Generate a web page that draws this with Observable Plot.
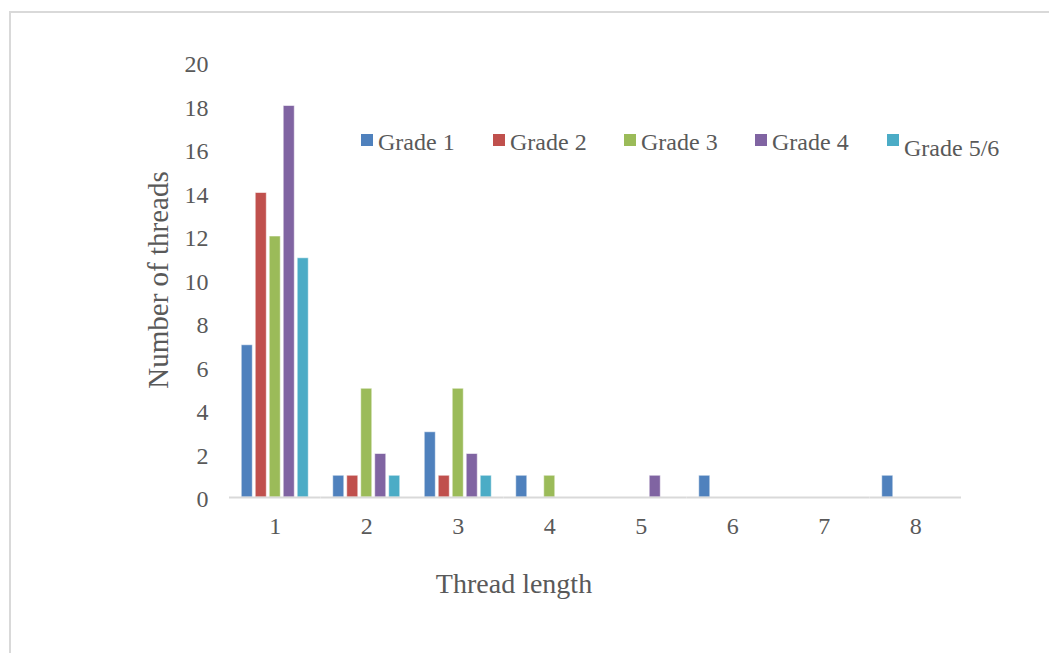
<!DOCTYPE html>
<html>
<head>
<meta charset="utf-8">
<script src="https://cdn.jsdelivr.net/npm/d3@7"></script>
<script src="https://cdn.jsdelivr.net/npm/@observablehq/plot@0.6"></script>
<style>
  html, body { margin: 0; padding: 0; background: #fff; }
  #wrap { position: relative; width: 1049px; height: 653px; overflow: hidden; font-family: "Liberation Serif", serif; color: #595959; }
  #frame { position: absolute; left: 9px; top: 11px; width: 1200px; height: 800px; border-top: 2px solid #d9d9d9; border-left: 2px solid #d9d9d9; }
  #chart { position: absolute; left: 0; top: 0; }
  .leg-sw { position: absolute; width: 12px; height: 12px; }
  .leg-tx { position: absolute; font-size: 24px; line-height: 24px; white-space: nowrap; }
  #xtitle { position: absolute; left: 364px; width: 300px; top: 570px; text-align: center; font-size: 28px; line-height: 28px; }
  #ytitle { position: absolute; left: 8px; top: 265px; width: 300px; height: 30px; text-align: center; font-size: 29px; line-height: 30px; transform: rotate(-90deg); white-space: nowrap; }
</style>
</head>
<body>
<div id="wrap">
  <div id="frame"></div>
  <div id="chart"></div>
  <div id="xtitle">Thread length</div>
  <div id="ytitle">Number of threads</div>
</div>
<script>
// ---- data ----
const lengths = [1, 2, 3, 4, 5, 6, 7, 8];
const seriesNames = ["Grade 1", "Grade 2", "Grade 3", "Grade 4", "Grade 5/6"];
const grade1  = [7, 1, 3, 1, 0, 1, 0, 1];
const grade2  = [14, 1, 1, 0, 0, 0, 0, 0];
const grade3  = [12, 5, 5, 1, 0, 0, 0, 0];
const grade4  = [18, 2, 2, 0, 1, 0, 0, 0];
const grade56 = [11, 1, 1, 0, 0, 0, 0, 0];
const yTicks = [0, 2, 4, 6, 8, 10, 12, 14, 16, 18, 20];
const colors = ["#4F81BD", "#C0504D", "#9BBB59", "#8064A2", "#4BACC6"];

const seriesValues = [grade1, grade2, grade3, grade4, grade56];
const rows = [];
seriesValues.forEach((vals, si) => {
  vals.forEach((v, i) => {
    if (v > 0) rows.push({len: lengths[i], grade: seriesNames[si], value: v});
  });
});

const chart = Plot.plot({
  width: 1049,
  height: 653,
  marginLeft: 229,
  marginRight: 88,
  marginTop: 62,
  marginBottom: 156,
  style: {fontFamily: "Liberation Serif, serif", fontSize: "24px", color: "#595959", background: "transparent"},
  fx: {domain: lengths, padding: 0, round: false, label: null, axis: null},
  x: {domain: seriesNames, paddingInner: 0.21, paddingOuter: 0.875, round: false, axis: null},
  y: {domain: [0, 20], axis: null},
  color: {domain: seriesNames, range: colors},
  marks: [
    Plot.axisFx({anchor: "bottom", tickSize: 0, tickPadding: 19, label: null, facetAnchor: "bottom"}),
    Plot.axisY({ticks: yTicks, tickSize: 0, tickPadding: 21, label: null, dy: 2, facetAnchor: "left"}),
    Plot.barY(rows, {fx: "len", x: "grade", y: "value", fill: "grade", stroke: "#ffffff", strokeOpacity: 0.55, strokeWidth: 1}),
    Plot.ruleY(lengths, {fx: (d) => d, y: () => 0, stroke: "#d9d9d9", strokeWidth: 2})
  ]
});
document.getElementById("chart").appendChild(chart);

// ---- legend ----
const legSwX = [361, 493, 624, 755, 887];
const legDy  = [0, 0, 0, 0, 6];
const wrap = document.getElementById("wrap");
seriesNames.forEach((name, i) => {
  const sw = document.createElement("div");
  sw.className = "leg-sw";
  sw.style.left = legSwX[i] + "px";
  sw.style.top = "134px";
  sw.style.background = colors[i];
  wrap.appendChild(sw);
  const tx = document.createElement("div");
  tx.className = "leg-tx";
  tx.style.left = (legSwX[i] + 17) + "px";
  tx.style.top = (130 + legDy[i]) + "px";
  tx.textContent = name;
  wrap.appendChild(tx);
});
</script>
</body>
</html>
